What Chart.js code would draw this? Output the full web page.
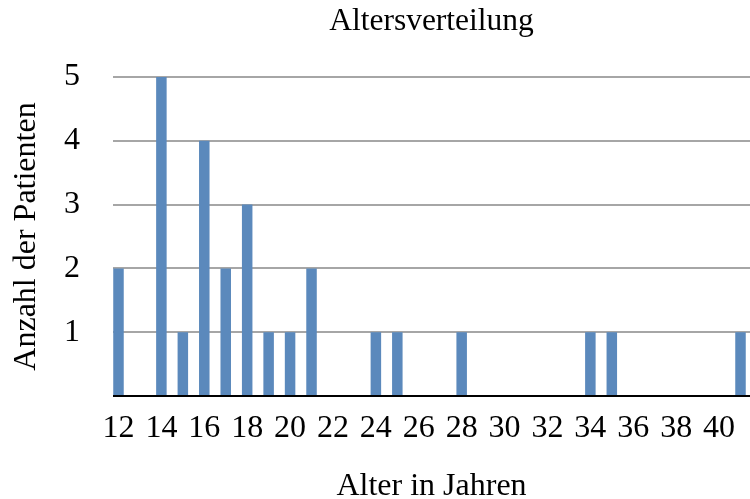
<!DOCTYPE html>
<html>
<head>
<meta charset="utf-8">
<title>Altersverteilung</title>
<script src="https://cdn.jsdelivr.net/npm/chart.js@4.4.1/dist/chart.umd.min.js"></script>
<style>
  html, body { margin: 0; padding: 0; background: #fff; }
  canvas { display: block; }
</style>
</head>
<body>
<canvas id="chart" width="750" height="499"></canvas>
<script>
// Age of each patient group (years) and number of patients of that age
const ages = [12, 14, 15, 16, 17, 18, 19, 20, 21, 24, 25, 28, 34, 35, 41];
const patients = [2, 5, 1, 4, 2, 3, 1, 1, 2, 1, 1, 1, 1, 1, 1];

// Labelled ticks on both axes
const ageTicks = [12, 14, 16, 18, 20, 22, 24, 26, 28, 30, 32, 34, 36, 38, 40];
const countTicks = [0, 1, 2, 3, 4, 5];

const SERIF = '"Liberation Serif", "Times New Roman", serif';
const BAR_BLUE = '#5B89BC';
const GRID_GREY = '#A6A6A6';

const points = ages.map((a, i) => ({ x: a, y: patients[i] }));

new Chart(document.getElementById('chart'), {
  type: 'bar',
  data: {
    datasets: [{
      data: points,
      backgroundColor: BAR_BLUE,
      borderWidth: 0,
      categoryPercentage: 1,
      barPercentage: 0.49
    }]
  },
  options: {
    responsive: false,
    animation: false,
    devicePixelRatio: 1,
    layout: { padding: 0 },
    plugins: {
      legend: { display: false },
      tooltip: { enabled: false },
      title: {
        display: true,
        text: 'Altersverteilung',
        color: '#000',
        fullSize: false,
        font: { family: SERIF, size: 31.5, weight: 'normal', lineHeight: 1.2 },
        padding: { top: 3, bottom: 36.2 }
      }
    },
    scales: {
      x: {
        type: 'linear',
        offset: false,
        min: 11.744,
        max: 41.443,
        grid: { display: false, drawTicks: false },
        border: { display: false },
        afterBuildTicks: (scale) => {
          scale.ticks = ageTicks.map(v => ({ value: v }));
        },
        afterFit: (scale) => { scale.height = 103; },
        ticks: {
          color: '#000',
          padding: 13,
          maxRotation: 0,
          autoSkip: false,
          font: { family: SERIF, size: 32, lineHeight: 1.2 },
          callback: (v) => String(v)
        },
        title: {
          display: true,
          text: 'Alter in Jahren',
          color: '#000',
          font: { family: SERIF, size: 32, lineHeight: 1.2 },
          padding: { top: 0, bottom: -7 }
        }
      },
      y: {
        min: 0,
        max: 5,
        afterBuildTicks: (scale) => {
          scale.ticks = countTicks.map(v => ({ value: v }));
        },
        afterFit: (scale) => { scale.width = 113; },
        grid: {
          drawTicks: false,
          lineWidth: 2,
          color: (ctx) => (ctx.tick && ctx.tick.value === 0 ? '#000' : GRID_GREY)
        },
        border: { display: false },
        ticks: {
          color: '#000',
          padding: 33,
          font: { family: SERIF, size: 32, lineHeight: 1.2 },
          callback: (v) => (v === 0 ? '' : String(v))
        },
        title: {
          display: true,
          text: 'Anzahl der Patienten',
          color: '#000',
          font: { family: SERIF, size: 32, lineHeight: 1.2 },
          padding: { top: 7.5, bottom: 0 }
        }
      }
    }
  }
});
</script>
</body>
</html>
